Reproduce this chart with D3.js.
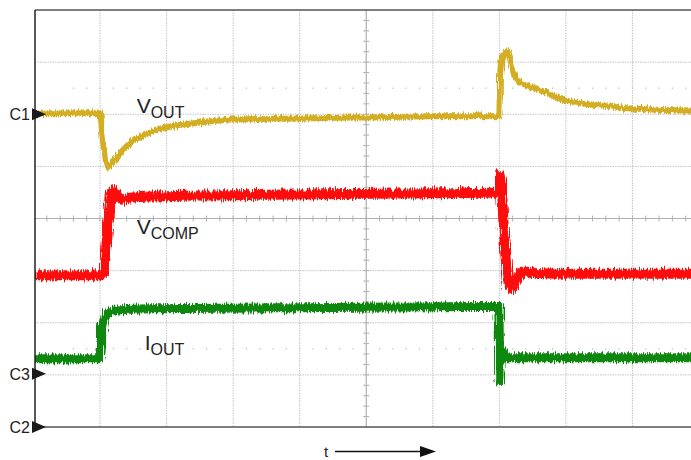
<!DOCTYPE html>
<html>
<head>
<meta charset="utf-8">
<script src="https://cdn.jsdelivr.net/npm/d3@7"></script>
<style>
  html, body { margin: 0; padding: 0; background: #fff; }
  svg { display: block; font-family: "Liberation Sans", Arial, sans-serif; }
</style>
</head>
<body>
<div class="displayArea"></div>
<script>
// time in divisions (0..10), amplitude in divisions from screen centre (+4 top, -4 bottom)
const voutT = [0, 1.0, 1.03, 1.07, 1.12, 1.18, 1.30, 1.50, 1.75, 2.0, 2.5, 3.0, 4.0, 5.0, 5.96, 7.0, 7.01, 7.04, 7.12, 7.16, 7.19, 7.27, 7.42, 7.62, 8.0, 8.51, 8.99, 10];
const voutV = [2.02, 2.02, 1.69, 1.21, 0.98, 1.06, 1.25, 1.50, 1.65, 1.75, 1.84, 1.90, 1.92, 1.94, 1.96, 1.96, 2.74, 3.07, 3.21, 3.07, 2.90, 2.65, 2.55, 2.46, 2.26, 2.17, 2.11, 2.07];

const vcompT = [0, 1.0, 1.05, 1.11, 1.15, 1.18, 1.24, 1.33, 1.45, 1.75, 2.5, 4.0, 5.5, 7.0, 7.01, 7.03, 7.06, 7.11, 7.17, 7.21, 7.28, 7.37, 7.95, 10];
const vcompV = [-1.09, -1.09, -1.04, -0.33, 0.35, 0.54, 0.48, 0.36, 0.40, 0.42, 0.44, 0.46, 0.48, 0.50, 0.83, 0.73, -0.04, -1.0, -1.34, -1.29, -1.11, -1.04, -1.06, -1.06];

const ioutT = [0, 0.98, 1.01, 1.04, 1.09, 1.15, 1.30, 1.75, 4.0, 6.99, 7.0, 7.007, 7.015, 7.03, 7.06, 7.10, 7.30, 10];
const ioutV = [-2.69, -2.69, -2.44, -2.05, -1.86, -1.79, -1.75, -1.73, -1.71, -1.69, -2.34, -3.11, -2.53, -2.73, -2.57, -2.67, -2.67, -2.67];

const channels = [
  {name: "C1", level: 2.0},
  {name: "C3", level: -2.98},
  {name: "C2", level: -4.0}
];

const traceLabels = [
  {main: "V", sub: "OUT", t: 1.55, v: 2.03},
  {main: "V", sub: "COMP", t: 1.55, v: -0.30},
  {main: "I", sub: "OUT", t: 1.67, v: -2.53}
];

const width = 691, height = 460;

const x = d3.scaleLinear().domain([0, 10]).range([33.5, 699]);
const y = d3.scaleLinear().domain([4, -4]).range([10, 427]);

const svg = d3.select(".displayArea")
  .append("svg")
  .attr("width", width)
  .attr("height", height);

const defs = svg.append("defs");
defs.append("clipPath").attr("id", "plotClip")
  .append("rect").attr("x", 35).attr("y", 10).attr("width", 660).attr("height", 417);

function noiseFilter(id, freq, scale, seed) {
  const f = defs.append("filter").attr("id", id)
    .attr("filterUnits", "userSpaceOnUse")
    .attr("x", 0).attr("y", 0).attr("width", width).attr("height", height);
  f.append("feTurbulence")
    .attr("type", "fractalNoise")
    .attr("baseFrequency", freq)
    .attr("numOctaves", 2)
    .attr("seed", seed)
    .attr("result", "n");
  f.append("feDisplacementMap")
    .attr("in", "SourceGraphic")
    .attr("in2", "n")
    .attr("scale", scale)
    .attr("xChannelSelector", "G")
    .attr("yChannelSelector", "R");
}
noiseFilter("noiseY", "0.7 0.04", 6, 2);
noiseFilter("noiseR", "0.9 0.05", 9, 5);
noiseFilter("noiseG", "0.9 0.05", 8, 9);

// grid
const grid = svg.append("g").attr("class", "grid");
const xs = d3.range(1, 10), ys = d3.range(-3, 4);

grid.selectAll(".vline").data(xs.filter(d => d !== 5)).enter().append("line")
  .attr("x1", d => x(d)).attr("x2", d => x(d))
  .attr("y1", y(4)).attr("y2", y(-4))
  .attr("stroke", "#c4c4c4").attr("stroke-width", 1).attr("stroke-dasharray", "1.5,1");

grid.selectAll(".hline").data(ys.filter(d => d !== 0)).enter().append("line")
  .attr("x1", 35).attr("x2", width)
  .attr("y1", d => y(d)).attr("y2", d => y(d))
  .attr("stroke", "#c4c4c4").attr("stroke-width", 1).attr("stroke-dasharray", "1.5,1");

// sparse half-division dots
const dotXs = d3.range(0, 50).map(i => i / 5);
[2.5, -2.5].forEach(lv => {
  grid.selectAll(null).data(dotXs.filter(d => d > 0.5)).enter().append("rect")
    .attr("x", d => x(d) - 0.6).attr("y", y(lv) - 0.6)
    .attr("width", 1.2).attr("height", 1.2)
    .attr("fill", "#b8b8b8");
});

// centre cross with ticks
grid.append("line")
  .attr("x1", x(5)).attr("x2", x(5)).attr("y1", y(4)).attr("y2", y(-4))
  .attr("stroke", "#b0b0b0").attr("stroke-width", 1.2);
grid.append("line")
  .attr("x1", 35).attr("x2", width).attr("y1", y(0)).attr("y2", y(0))
  .attr("stroke", "#b0b0b0").attr("stroke-width", 1.2);
grid.selectAll(".htick").data(d3.range(1, 50).map(i => i / 5)).enter().append("line")
  .attr("x1", d => x(d)).attr("x2", d => x(d))
  .attr("y1", y(0) - 3).attr("y2", y(0) + 3)
  .attr("stroke", "#b0b0b0").attr("stroke-width", 1);
grid.selectAll(".vtick").data(d3.range(-19, 20).map(i => i / 5)).enter().append("line")
  .attr("x1", x(5) - 3).attr("x2", x(5) + 3)
  .attr("y1", d => y(d)).attr("y2", d => y(d))
  .attr("stroke", "#b0b0b0").attr("stroke-width", 1);

// traces
const line = d3.line()
  .x(d => x(d[0]))
  .y(d => y(d[1]))
  .curve(d3.curveMonotoneX);

const traces = svg.append("g").attr("clip-path", "url(#plotClip)");

function drawTrace(ts, vs, colour, w, filter) {
  traces.append("path")
    .datum(d3.zip(ts, vs))
    .attr("fill", "none")
    .attr("stroke", colour)
    .attr("stroke-width", w)
    .attr("stroke-linejoin", "round")
    .attr("filter", `url(#${filter})`)
    .attr("d", line);
}
drawTrace(ioutT, ioutV, "#0b870b", 9, "noiseG");
drawTrace(vcompT, vcompV, "#ff0a0a", 10, "noiseR");
drawTrace(voutT, voutV, "#d4ae24", 6, "noiseY");

// frame
svg.append("line").attr("x1", 35).attr("x2", width).attr("y1", y(4)).attr("y2", y(4))
  .attr("stroke", "#555").attr("stroke-width", 1.5);
svg.append("line").attr("x1", 35).attr("x2", width).attr("y1", y(-4)).attr("y2", y(-4))
  .attr("stroke", "#555").attr("stroke-width", 1.5);
svg.append("line").attr("x1", 35).attr("x2", 35).attr("y1", y(4)).attr("y2", y(-4))
  .attr("stroke", "#222").attr("stroke-width", 1.5);

// channel markers
const ch = svg.append("g").selectAll("g").data(channels).enter().append("g")
  .attr("transform", d => `translate(0,${y(d.level)})`);
ch.append("path")
  .attr("d", "M32,-6 L46,0 L32,6 Z")
  .attr("fill", "#1a1a1a");
ch.append("text")
  .attr("x", 30).attr("y", 6)
  .attr("text-anchor", "end")
  .attr("font-size", 16)
  .attr("fill", "#222")
  .text(d => d.name);

// trace labels
const lbl = svg.append("g").selectAll("text").data(traceLabels).enter().append("text")
  .attr("x", d => x(d.t)).attr("y", d => y(d.v))
  .attr("fill", "#222");
lbl.append("tspan").attr("font-size", 21).text(d => d.main);
lbl.append("tspan").attr("font-size", 16).attr("dy", 5).text(d => d.sub);

// time arrow
svg.append("text")
  .attr("x", 326).attr("y", 457)
  .attr("text-anchor", "middle")
  .attr("font-size", 15)
  .attr("fill", "#222")
  .text("t");
svg.append("line")
  .attr("x1", 335).attr("x2", 422).attr("y1", 451.5).attr("y2", 451.5)
  .attr("stroke", "#111").attr("stroke-width", 1.5);
svg.append("path")
  .attr("d", "M420,446 L436,451.5 L420,457 Z")
  .attr("fill", "#111");
</script>
</body>
</html>
